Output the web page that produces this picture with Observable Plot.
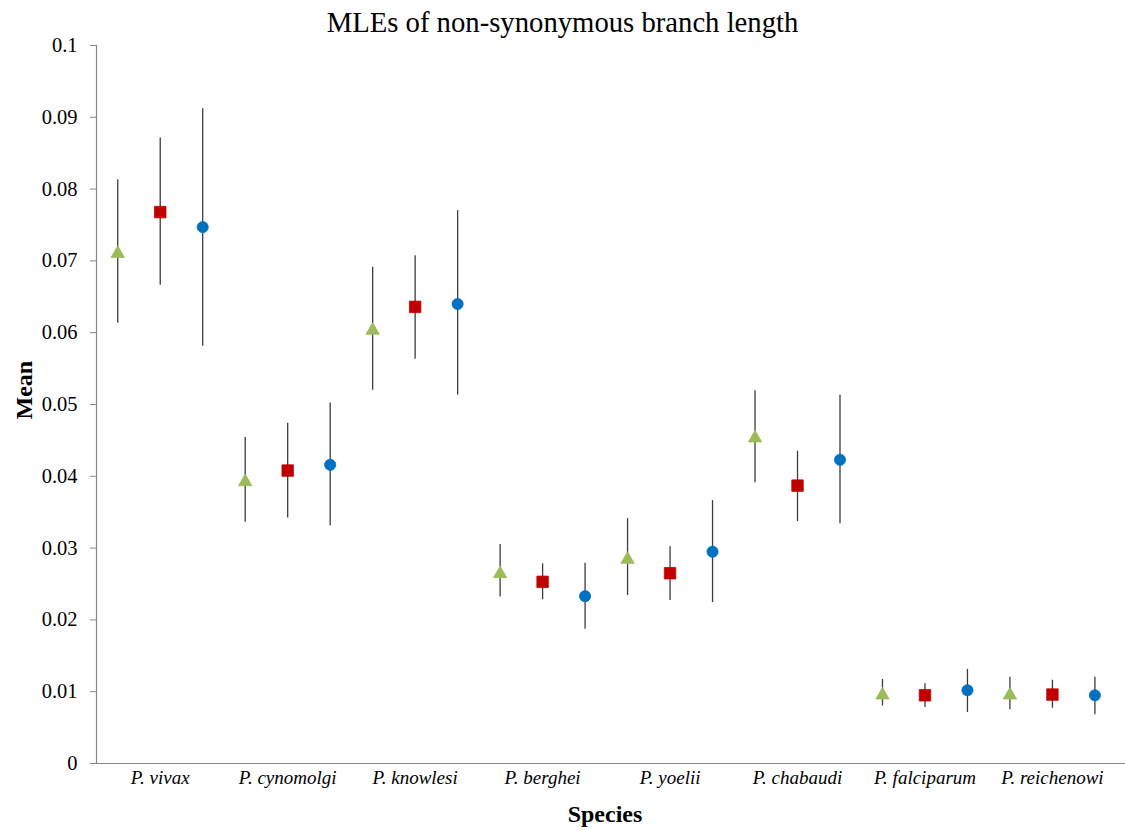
<!DOCTYPE html>
<html>
<head>
<meta charset="utf-8">
<script src="https://cdn.jsdelivr.net/npm/d3@7"></script>
<script src="https://cdn.jsdelivr.net/npm/@observablehq/plot@0.6"></script>
<style>
  body { margin: 0; background: #fff; }
  #wrap { position: relative; width: 1125px; height: 830px; }
  #title { position: absolute; left: 0; top: 8px; width: 1125px; text-align: center;
           font-family: "Liberation Serif", serif; font-size: 28.7px; line-height: 29px; color: #000; }
  #wrap svg, #wrap svg text { font-family: "Liberation Serif", serif !important; }
  #wrap svg [aria-label="y-axis tick"] { stroke: #878787; }
</style>
</head>
<body>
<div id="wrap"><div id="title">MLEs of non-synonymous branch length</div></div>
<script>
// ---- data ----
const species = ["P. vivax", "P. cynomolgi", "P. knowlesi", "P. berghei",
                 "P. yoelii", "P. chabaudi", "P. falciparum", "P. reichenowi"];
const seriesNames = ["Series 1", "Series 2", "Series 3"];

// Series 1 (green triangles)
const mean1 = [0.0713, 0.0395, 0.0606, 0.0267, 0.0287, 0.0456, 0.0098, 0.0098];
const low1  = [0.0613, 0.0336, 0.0520, 0.0232, 0.0234, 0.0391, 0.0080, 0.0075];
const high1 = [0.0813, 0.0454, 0.0691, 0.0305, 0.0341, 0.0519, 0.0117, 0.0120];
// Series 2 (red squares)
const mean2 = [0.0768, 0.0408, 0.0636, 0.0253, 0.0265, 0.0387, 0.0095, 0.0096];
const low2  = [0.0666, 0.0342, 0.0563, 0.0228, 0.0227, 0.0337, 0.0078, 0.0077];
const high2 = [0.0871, 0.0474, 0.0707, 0.0278, 0.0302, 0.0435, 0.0111, 0.0116];
// Series 3 (blue circles)
const mean3 = [0.0747, 0.0416, 0.0640, 0.0233, 0.0295, 0.0423, 0.0102, 0.0095];
const low3  = [0.0581, 0.0331, 0.0513, 0.0187, 0.0224, 0.0334, 0.0071, 0.0068];
const high3 = [0.0912, 0.0502, 0.0770, 0.0279, 0.0366, 0.0513, 0.0131, 0.0120];

const yTicks = [0, 0.01, 0.02, 0.03, 0.04, 0.05, 0.06, 0.07, 0.08, 0.09, 0.1];

// ---- build table ----
const means = [mean1, mean2, mean3], lows = [low1, low2, low3], highs = [high1, high2, high3];
const rows = species.flatMap((sp, i) => seriesNames.map((s, k) => ({
  species: sp, series: s, idx: i * 3 + k, mean: means[k][i], lo: lows[k][i], hi: highs[k][i]
})));
const bySeries = k => rows.filter(d => d.series === seriesNames[k]);

const axisGray = "#878787";
const chart = Plot.plot({
  width: 1125, height: 830,
  marginTop: 45, marginBottom: 67, marginLeft: 96, marginRight: 0,
  style: { fontFamily: '"Liberation Serif", serif', fontSize: "20.5px",
           color: "#000", background: "#fff", overflow: "visible" },
  x: { type: "linear", domain: [-0.5, 23.72], axis: null },
  y: { domain: [0, 0.1] },
  color: { domain: seriesNames, range: ["#9BBB59", "#C00000", "#0070C0"] },
  symbol: { domain: seriesNames, range: ["triangle", "square", "circle"] },
  marks: [
    Plot.axisY({ ticks: yTicks, tickSize: 6, tickPadding: 13, tickFormat: d3.format("~g"),
                 label: null, fontSize: 20.5, fontVariant: "normal" }),
    Plot.ruleY([0], { stroke: axisGray, strokeWidth: 1.2 }),
    Plot.ruleX([-0.5], { stroke: axisGray, strokeWidth: 1.2 }),
    Plot.ruleX(rows, { x: "idx", y1: "lo", y2: "hi", stroke: "#3c3c3c", strokeWidth: 1.3 }),
    Plot.dot(bySeries(0), { x: "idx", y: "mean", symbol: "series", fill: "series", stroke: "series",
                            strokeWidth: 0.75, r: 5, dy: 2 }),
    Plot.dot(bySeries(1), { x: "idx", y: "mean", symbol: "series", fill: "series", stroke: "series",
                            strokeWidth: 0.75, r: 6.5 }),
    Plot.dot(bySeries(2), { x: "idx", y: "mean", symbol: "series", fill: "series", stroke: "series",
                            strokeWidth: 0.75, r: 5.6 }),
    Plot.text(species, { x: (d, i) => i * 3 + 1, text: d => d, frameAnchor: "bottom", dy: 14,
                         lineAnchor: "middle", fontStyle: "italic", fontSize: 19 }),
    Plot.text(["Species"], { text: d => d, frameAnchor: "bottom", dx: -6, dy: 51,
                             lineAnchor: "middle", fontWeight: "bold", fontSize: 24 }),
    Plot.text(["Mean"], { text: d => d, frameAnchor: "left", dx: -72, dy: 15, rotate: -90,
                          lineAnchor: "middle", fontWeight: "bold", fontSize: 24 })
  ]
});
document.getElementById("wrap").appendChild(chart);
</script>
</body>
</html>
